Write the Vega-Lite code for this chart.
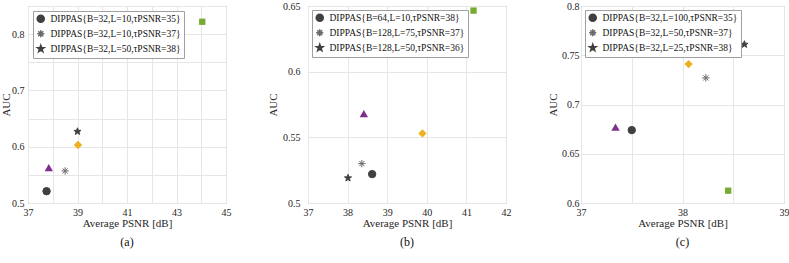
{
  "$schema": "https://vega.github.io/schema/vega-lite/v6.json",
  "padding": {"left": 0, "top": 0, "right": 0, "bottom": 0},
  "spacing": 35,
  "background": "white",
  "resolve": {
    "scale": {"shape": "independent", "color": "independent", "stroke": "independent", "x": "independent", "y": "independent"},
    "legend": {"shape": "independent", "color": "independent", "stroke": "independent"}
  },
  "hconcat": [
    {
      "width": 198,
      "height": 197,
      "title": {"text": "(a)", "orient": "bottom", "offset": 9},
      "data": {"values": [
        {"method": "DIPPAS{B=32,L=10,τPSNR=35}", "kind": "DIPPAS", "psnr": 37.75, "auc": 0.521},
        {"method": "DIPPAS{B=32,L=10,τPSNR=37}", "kind": "DIPPAS", "psnr": 38.5, "auc": 0.557},
        {"method": "DIPPAS{B=32,L=50,τPSNR=38}", "kind": "DIPPAS", "psnr": 39.0, "auc": 0.627},
        {"method": "Method A", "kind": "other", "psnr": 37.84, "auc": 0.563},
        {"method": "Method B", "kind": "other", "psnr": 39.02, "auc": 0.603},
        {"method": "Method C", "kind": "other", "psnr": 44.04, "auc": 0.822}
      ]},
      "encoding": {
        "x": {"field": "psnr", "type": "quantitative", "scale": {"domain": [37, 45], "nice": false, "zero": false},
          "axis": {"title": "Average PSNR [dB]", "values": [37, 38, 39, 40, 41, 42, 43, 44, 45], "format": "~g", "labelExpr": "datum.value % 2 == 1 ? datum.label : ''"}},
        "y": {"field": "auc", "type": "quantitative", "scale": {"domain": [0.5, 0.85], "nice": false, "zero": false},
          "axis": {"title": "AUC", "values": [0.5, 0.55, 0.6, 0.65, 0.7, 0.75, 0.8, 0.85], "format": "~g", "labelExpr": "round(datum.value * 100) % 10 == 0 ? datum.label : ''", "labelPadding": 4, "titlePadding": 0}}
      },
      "layer": [
        {
          "transform": [{"filter": "datum.kind == 'DIPPAS'"}],
          "mark": {"type": "point", "filled": true, "strokeWidth": 1, "opacity": 1, "size": 55},
          "encoding": {
            "shape": {"field": "method", "type": "nominal",
              "scale": {"domain": ["DIPPAS{B=32,L=10,τPSNR=35}", "DIPPAS{B=32,L=10,τPSNR=37}", "DIPPAS{B=32,L=50,τPSNR=38}"],
                "range": ["circle", "M0,-1L0,1M-1,0L1,0M-0.7,-0.7L0.7,0.7M-0.7,0.7L0.7,-0.7", "M0,-1L0.235,-0.324L0.951,-0.309L0.38,0.124L0.588,0.809L0,0.4L-0.588,0.809L-0.38,0.124L-0.951,-0.309L-0.235,-0.324Z"]},
              "legend": {"title": null, "orient": "top-left", "offset": 5}},
            "color": {"field": "method", "type": "nominal",
              "scale": {"domain": ["DIPPAS{B=32,L=10,τPSNR=35}", "DIPPAS{B=32,L=10,τPSNR=37}", "DIPPAS{B=32,L=50,τPSNR=38}"], "range": ["#404040", "#6a6a6a", "#404040"]},
              "legend": {"title": null, "orient": "top-left", "offset": 5}},
            "stroke": {"field": "method", "type": "nominal",
              "scale": {"domain": ["DIPPAS{B=32,L=10,τPSNR=35}", "DIPPAS{B=32,L=10,τPSNR=37}", "DIPPAS{B=32,L=50,τPSNR=38}"], "range": ["#404040", "#6a6a6a", "#404040"]},
              "legend": {"title": null, "orient": "top-left", "offset": 5}}
          }
        },
        {"transform": [{"filter": "datum.method == 'Method A'"}], "mark": {"type": "point", "shape": "triangle-up", "filled": true, "color": "#7E2F8E", "opacity": 1, "size": 70}, "encoding": {}},
        {"transform": [{"filter": "datum.method == 'Method B'"}], "mark": {"type": "point", "shape": "diamond", "filled": true, "color": "#EDB120", "opacity": 1, "size": 70}, "encoding": {}},
        {"transform": [{"filter": "datum.method == 'Method C'"}], "mark": {"type": "point", "shape": "square", "filled": true, "color": "#77AC30", "opacity": 1, "size": 40}, "encoding": {}}
      ]
    },
    {
      "width": 198,
      "height": 197,
      "title": {"text": "(b)", "orient": "bottom", "offset": 9},
      "data": {"values": [
        {"method": "DIPPAS{B=64,L=10,τPSNR=38}", "kind": "DIPPAS", "psnr": 38.62, "auc": 0.522},
        {"method": "DIPPAS{B=128,L=75,τPSNR=37}", "kind": "DIPPAS", "psnr": 38.36, "auc": 0.530},
        {"method": "DIPPAS{B=128,L=50,τPSNR=36}", "kind": "DIPPAS", "psnr": 38.01, "auc": 0.519},
        {"method": "Method A", "kind": "other", "psnr": 38.41, "auc": 0.568},
        {"method": "Method B", "kind": "other", "psnr": 39.89, "auc": 0.553},
        {"method": "Method C", "kind": "other", "psnr": 41.18, "auc": 0.6465}
      ]},
      "encoding": {
        "x": {"field": "psnr", "type": "quantitative", "scale": {"domain": [37, 42], "nice": false, "zero": false},
          "axis": {"title": "Average PSNR [dB]", "values": [37, 38, 39, 40, 41, 42], "format": "~g"}},
        "y": {"field": "auc", "type": "quantitative", "scale": {"domain": [0.5, 0.65], "nice": false, "zero": false},
          "axis": {"title": "AUC", "values": [0.5, 0.55, 0.6, 0.65], "format": "~g", "labelPadding": 8, "titlePadding": 4}}
      },
      "layer": [
        {
          "transform": [{"filter": "datum.kind == 'DIPPAS'"}],
          "mark": {"type": "point", "filled": true, "strokeWidth": 1, "opacity": 1, "size": 55},
          "encoding": {
            "shape": {"field": "method", "type": "nominal",
              "scale": {"domain": ["DIPPAS{B=64,L=10,τPSNR=38}", "DIPPAS{B=128,L=75,τPSNR=37}", "DIPPAS{B=128,L=50,τPSNR=36}"],
                "range": ["circle", "M0,-1L0,1M-1,0L1,0M-0.7,-0.7L0.7,0.7M-0.7,0.7L0.7,-0.7", "M0,-1L0.235,-0.324L0.951,-0.309L0.38,0.124L0.588,0.809L0,0.4L-0.588,0.809L-0.38,0.124L-0.951,-0.309L-0.235,-0.324Z"]},
              "legend": {"title": null, "orient": "top-left", "offset": 4}},
            "color": {"field": "method", "type": "nominal",
              "scale": {"domain": ["DIPPAS{B=64,L=10,τPSNR=38}", "DIPPAS{B=128,L=75,τPSNR=37}", "DIPPAS{B=128,L=50,τPSNR=36}"], "range": ["#404040", "#6a6a6a", "#404040"]},
              "legend": {"title": null, "orient": "top-left", "offset": 4}},
            "stroke": {"field": "method", "type": "nominal",
              "scale": {"domain": ["DIPPAS{B=64,L=10,τPSNR=38}", "DIPPAS{B=128,L=75,τPSNR=37}", "DIPPAS{B=128,L=50,τPSNR=36}"], "range": ["#404040", "#6a6a6a", "#404040"]},
              "legend": {"title": null, "orient": "top-left", "offset": 4}}
          }
        },
        {"transform": [{"filter": "datum.method == 'Method A'"}], "mark": {"type": "point", "shape": "triangle-up", "filled": true, "color": "#7E2F8E", "opacity": 1, "size": 70}, "encoding": {}},
        {"transform": [{"filter": "datum.method == 'Method B'"}], "mark": {"type": "point", "shape": "diamond", "filled": true, "color": "#EDB120", "opacity": 1, "size": 70}, "encoding": {}},
        {"transform": [{"filter": "datum.method == 'Method C'"}], "mark": {"type": "point", "shape": "square", "filled": true, "color": "#77AC30", "opacity": 1, "size": 40}, "encoding": {}}
      ]
    },
    {
      "width": 203,
      "height": 197,
      "title": {"text": "(c)", "orient": "bottom", "offset": 9},
      "data": {"values": [
        {"method": "DIPPAS{B=32,L=100,τPSNR=35}", "kind": "DIPPAS", "psnr": 37.5, "auc": 0.674},
        {"method": "DIPPAS{B=32,L=50,τPSNR=37}", "kind": "DIPPAS", "psnr": 38.23, "auc": 0.727},
        {"method": "DIPPAS{B=32,L=25,τPSNR=38}", "kind": "DIPPAS", "psnr": 38.61, "auc": 0.761},
        {"method": "Method A", "kind": "other", "psnr": 37.34, "auc": 0.677},
        {"method": "Method B", "kind": "other", "psnr": 38.06, "auc": 0.741},
        {"method": "Method C", "kind": "other", "psnr": 38.45, "auc": 0.6125}
      ]},
      "encoding": {
        "x": {"field": "psnr", "type": "quantitative", "scale": {"domain": [37, 39], "nice": false, "zero": false},
          "axis": {"title": "Average PSNR [dB]", "values": [37, 37.5, 38, 38.5, 39], "format": "~g", "labelExpr": "datum.value % 1 == 0 ? datum.label : ''"}},
        "y": {"field": "auc", "type": "quantitative", "scale": {"domain": [0.6, 0.8], "nice": false, "zero": false},
          "axis": {"title": "AUC", "values": [0.6, 0.65, 0.7, 0.75, 0.8], "format": "~g", "labelPadding": 2, "titlePadding": 3}}
      },
      "layer": [
        {
          "transform": [{"filter": "datum.kind == 'DIPPAS'"}],
          "mark": {"type": "point", "filled": true, "strokeWidth": 1, "opacity": 1, "size": 55},
          "encoding": {
            "shape": {"field": "method", "type": "nominal",
              "scale": {"domain": ["DIPPAS{B=32,L=100,τPSNR=35}", "DIPPAS{B=32,L=50,τPSNR=37}", "DIPPAS{B=32,L=25,τPSNR=38}"],
                "range": ["circle", "M0,-1L0,1M-1,0L1,0M-0.7,-0.7L0.7,0.7M-0.7,0.7L0.7,-0.7", "M0,-1L0.235,-0.324L0.951,-0.309L0.38,0.124L0.588,0.809L0,0.4L-0.588,0.809L-0.38,0.124L-0.951,-0.309L-0.235,-0.324Z"]},
              "legend": {"title": null, "orient": "top-left", "offset": 4}},
            "color": {"field": "method", "type": "nominal",
              "scale": {"domain": ["DIPPAS{B=32,L=100,τPSNR=35}", "DIPPAS{B=32,L=50,τPSNR=37}", "DIPPAS{B=32,L=25,τPSNR=38}"], "range": ["#404040", "#6a6a6a", "#404040"]},
              "legend": {"title": null, "orient": "top-left", "offset": 4}},
            "stroke": {"field": "method", "type": "nominal",
              "scale": {"domain": ["DIPPAS{B=32,L=100,τPSNR=35}", "DIPPAS{B=32,L=50,τPSNR=37}", "DIPPAS{B=32,L=25,τPSNR=38}"], "range": ["#404040", "#6a6a6a", "#404040"]},
              "legend": {"title": null, "orient": "top-left", "offset": 4}}
          }
        },
        {"transform": [{"filter": "datum.method == 'Method A'"}], "mark": {"type": "point", "shape": "triangle-up", "filled": true, "color": "#7E2F8E", "opacity": 1, "size": 70}, "encoding": {}},
        {"transform": [{"filter": "datum.method == 'Method B'"}], "mark": {"type": "point", "shape": "diamond", "filled": true, "color": "#EDB120", "opacity": 1, "size": 70}, "encoding": {}},
        {"transform": [{"filter": "datum.method == 'Method C'"}], "mark": {"type": "point", "shape": "square", "filled": true, "color": "#77AC30", "opacity": 1, "size": 40}, "encoding": {}}
      ]
    }
  ],
  "config": {
    "font": "'Liberation Serif', 'DejaVu Serif', serif",
    "view": {"stroke": "#8c8c8c", "strokeWidth": 1},
    "axis": {"domain": false, "ticks": false, "grid": true, "gridColor": "#e6e6e6", "gridWidth": 1, "labelFlush": false,
      "labelFont": "'Liberation Serif', 'DejaVu Serif', serif", "labelFontSize": 10, "labelColor": "#262626",
      "titleFont": "'Liberation Serif', 'DejaVu Serif', serif", "titleFontSize": 11, "titleFontWeight": "normal", "titleColor": "#262626"},
    "axisX": {"labelPadding": 4, "titlePadding": 0},
    "legend": {"labelFont": "'Liberation Serif', 'DejaVu Serif', serif", "labelFontSize": 9.5, "labelColor": "#111", "padding": 3,
      "strokeColor": "#a0a0a0", "fillColor": "white", "symbolSize": 50, "rowPadding": 1, "labelOffset": 5, "labelLimit": 300},
    "title": {"font": "'Liberation Serif', 'DejaVu Serif', serif", "fontSize": 12, "fontWeight": "normal", "color": "#111"}
  }
}
